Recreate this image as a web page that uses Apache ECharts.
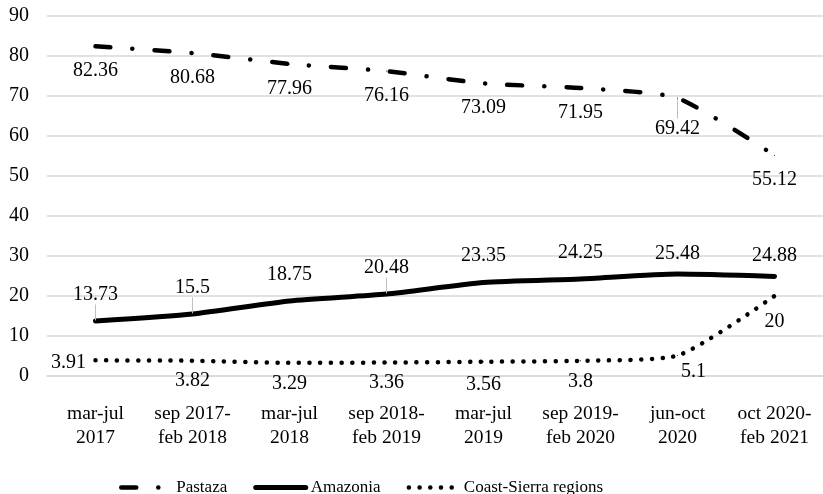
<!DOCTYPE html>
<html>
<head>
<meta charset="utf-8">
<script src="https://cdn.jsdelivr.net/npm/echarts@6/dist/echarts.min.js"></script>
<style>
  html, body { margin: 0; padding: 0; background: #fff; }
  #chart { width: 823px; height: 494px; }
</style>
</head>
<body>
<div id="chart"></div>
<script>
// Survey periods (two-line tick labels)
const periods = [
  'mar-jul\n2017', 'sep 2017-\nfeb 2018', 'mar-jul\n2018', 'sep 2018-\nfeb 2019',
  'mar-jul\n2019', 'sep 2019-\nfeb 2020', 'jun-oct\n2020', 'oct 2020-\nfeb 2021'
];

const pastaza = [82.36, 80.68, 77.96, 76.16, 73.09, 71.95, 69.42, 55.12];
const amazonia = [13.73, 15.5, 18.75, 20.48, 23.35, 24.25, 25.48, 24.88];
const coastSierra = [3.91, 3.82, 3.29, 3.36, 3.56, 3.8, 5.1, 20];

const yTicks = [0, 10, 20, 30, 40, 50, 60, 70, 80, 90];

const FONT = '"Liberation Serif", "Times New Roman", serif';
const chart = echarts.init(document.getElementById('chart'), null, { renderer: 'canvas' });

// Points whose labels are pushed further away and get a short guide line
const amazoniaGuided = [0, 1, 3];
const pastazaGuided = [6];

const guideLine = { show: true, lineStyle: { color: '#bfbfbf', width: 1 }, length2: 0 };

// Tiny, invisible markers so that every point can carry its value label
const hiddenMarker = { symbol: 'circle', symbolSize: 1, showSymbol: true };

chart.setOption({
  animation: false,
  backgroundColor: '#ffffff',
  textStyle: { fontFamily: FONT, color: '#000' },
  grid: { left: 47, right: 0, top: 15.7, bottom: 118, containLabel: false },
  legend: {
    left: 114,
    top: 474,
    itemWidth: 50,
    itemHeight: 14,
    itemGap: 26,
    itemStyle: { opacity: 0 },
    lineStyle: { width: 'inherit', type: 'inherit', cap: 'round' },
    textStyle: { fontFamily: FONT, fontSize: 17, color: '#000' },
    data: ['Pastaza', 'Amazonia', 'Coast-Sierra regions']
  },
  xAxis: {
    type: 'category',
    data: periods,
    boundaryGap: true,
    axisLine: { show: true, lineStyle: { color: '#d9d9d9', width: 1.5 } },
    axisTick: { show: false },
    axisLabel: {
      fontFamily: FONT, fontSize: 19.5, color: '#000',
      lineHeight: 24, margin: 26, interval: 0
    }
  },
  yAxis: {
    type: 'value',
    min: yTicks[0],
    max: yTicks[yTicks.length - 1],
    interval: yTicks[1] - yTicks[0],
    axisLine: { show: false },
    axisTick: { show: false },
    splitLine: { lineStyle: { color: '#d9d9d9', width: 1.5 } },
    axisLabel: { fontFamily: FONT, fontSize: 20, color: '#000', margin: 18 }
  },
  series: [
    Object.assign({
      name: 'Pastaza',
      type: 'line',
      smooth: 0.2,
      data: pastaza.map((v, i) => ({
        value: v,
        labelLine: pastazaGuided.includes(i) ? guideLine : { show: false }
      })),
      lineStyle: { color: '#000', width: 4.5, type: [15, 22, 0.1, 22], cap: 'round' },
      itemStyle: { color: '#000' },
      label: {
        show: true, position: 'bottom', distance: 5,
        fontFamily: FONT, fontSize: 20, color: '#000'
      },
      labelLayout: (p) => ({ dy: pastazaGuided.includes(p.dataIndex) ? 15 : 9 }),
      z: 3
    }, hiddenMarker),
    Object.assign({
      name: 'Amazonia',
      type: 'line',
      smooth: 0.2,
      data: amazonia.map((v, i) => ({
        value: v,
        labelLine: amazoniaGuided.includes(i) ? guideLine : { show: false }
      })),
      lineStyle: { color: '#000', width: 5, cap: 'round' },
      itemStyle: { color: '#000' },
      label: {
        show: true, position: 'top', distance: 5,
        fontFamily: FONT, fontSize: 20, color: '#000'
      },
      labelLayout: (p) => ({ dy: p.dataIndex >= 6 ? -5 : -11 }),
      z: 3
    }, hiddenMarker),
    Object.assign({
      name: 'Coast-Sierra regions',
      type: 'line',
      smooth: 0.2,
      data: coastSierra,
      lineStyle: { color: '#000', width: 4.5, type: [0.1, 10.6], cap: 'round' },
      itemStyle: { color: '#000' },
      label: {
        show: true, position: 'bottom', distance: 5,
        fontFamily: FONT, fontSize: 20, color: '#000'
      },
      labelLayout: (p) => {
        const i = p.dataIndex;
        if (i === 0) return { dx: -27, dy: -13 };
        if (i === 6) return { dx: 16, dy: 1 };
        if (i === 7) return { dy: 10 };
        if (i === 4) return { dy: 8 };
        return { dy: 5 };
      },
      z: 3
    }, hiddenMarker)
  ]
});
</script>
</body>
</html>
